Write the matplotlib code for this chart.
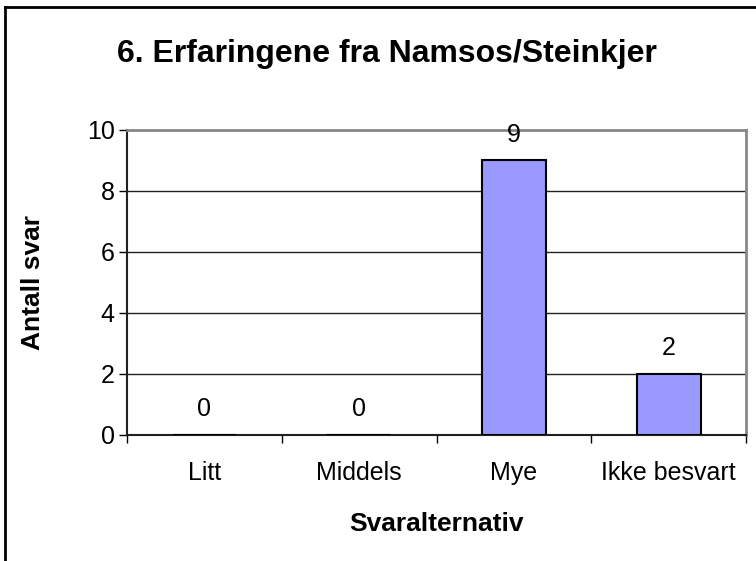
import matplotlib
matplotlib.use('Agg')
import matplotlib.pyplot as plt
from matplotlib.lines import Line2D

plt.rcParams['font.family'] = ['Liberation Sans', 'DejaVu Sans']

# data
categories = ['Litt', 'Middels', 'Mye', 'Ikke besvart']
counts = [0, 0, 9, 2]
y_ticks = [0, 2, 4, 6, 8, 10]

fig = plt.figure(figsize=(7.56, 5.61), dpi=100)
ax = fig.add_axes([0.168, 0.2246, 0.819, 0.5437])

x = range(len(categories))
bars = ax.bar(x, counts, width=0.41, color='#9999FF', edgecolor='black',
              linewidth=1.5, zorder=3)

# data labels over each bar
for xi, v in zip(x, counts):
    ax.annotate(str(v), (xi, v), xytext=(0, 18.5), textcoords='offset points',
                ha='center', va='center', fontsize=18)

ax.set_xlim(-0.5, len(categories) - 0.5)
ax.set_ylim(0, 10)
ax.set_yticks(y_ticks)
ax.tick_params(axis='y', labelsize=18, length=6, width=1, color='black', pad=3)

# category labels centred, tick marks at boundaries
ax.set_xticks(list(x))
ax.set_xticklabels(categories, fontsize=18)
ax.tick_params(axis='x', which='major', length=0, pad=19)
ax.set_xticks([i - 0.5 for i in range(len(categories) + 1)], minor=True)
ax.tick_params(axis='x', which='minor', length=6, width=1, color='black')

ax.yaxis.grid(True, color='#222222', linewidth=1)
ax.set_axisbelow(True)

for s in ['left', 'bottom']:
    ax.spines[s].set_color('#202020')
    ax.spines[s].set_linewidth(1.5)
for s in ['top', 'right']:
    ax.spines[s].set_color('#888888')
    ax.spines[s].set_linewidth(2)

ax.set_ylabel('Antall svar', fontsize=19, fontweight='bold')
ax.yaxis.set_label_coords(-0.133, 0.5)
ax.set_xlabel('Svaralternativ', fontsize=19, fontweight='bold')
ax.xaxis.set_label_coords(0.5, -0.252)
fig.text(0.512, 0.903, '6. Erfaringene fra Namsos/Steinkjer', fontsize=23,
         fontweight='bold', ha='center', va='center')

# chart frame: only the left and top edges are inside the picture
fig.add_artist(Line2D([0.006, 0.006], [0.0, 0.988], color='black', linewidth=2,
                      transform=fig.transFigure))
fig.add_artist(Line2D([0.006, 1.0], [0.988, 0.988], color='black', linewidth=2,
                      transform=fig.transFigure))

fig.savefig('out.png', dpi=100)
